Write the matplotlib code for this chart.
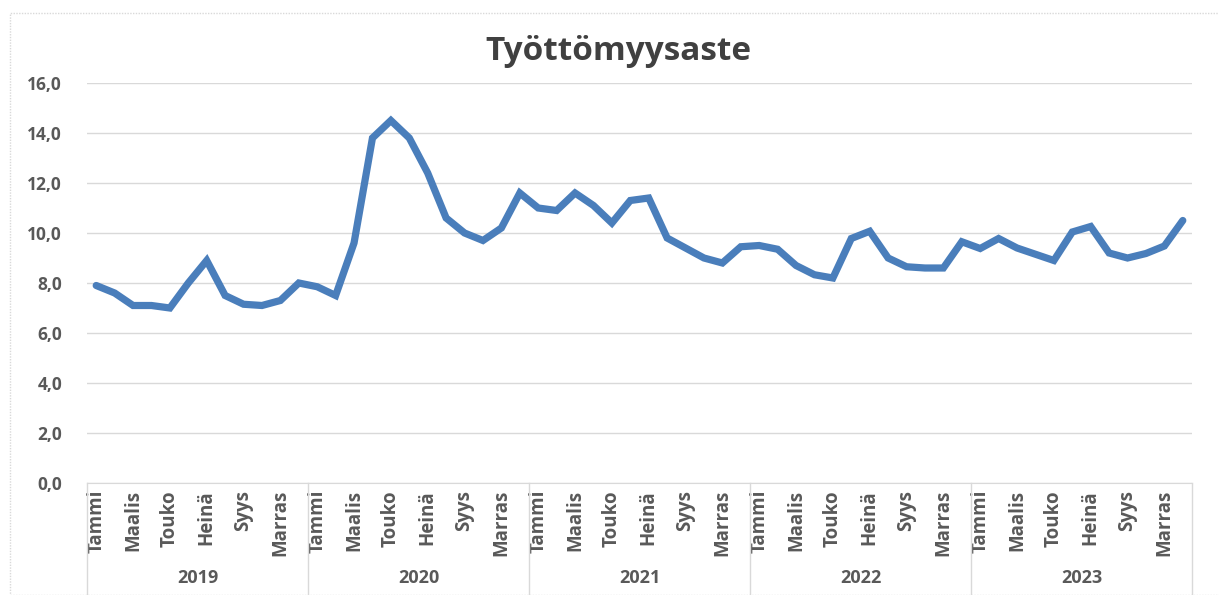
import matplotlib
matplotlib.use('Agg')
import matplotlib.pyplot as plt
import matplotlib.transforms as mtransforms
from matplotlib.patches import Rectangle

plt.rcParams['font.family'] = ['Open Sans', 'DejaVu Sans']

years = ['2019', '2020', '2021', '2022', '2023']
month_labels = ['Tammi', 'Maalis', 'Touko', 'Heinä', 'Syys', 'Marras']

rate_2019 = [7.9, 7.6, 7.1, 7.1, 7.0, 8.0, 8.9, 7.5, 7.15, 7.1, 7.3, 8.0]
rate_2020 = [7.85, 7.5, 9.6, 13.8, 14.5, 13.8, 12.4, 10.6, 10.0, 9.7, 10.2, 11.6]
rate_2021 = [11.0, 10.9, 11.6, 11.1, 10.4, 11.3, 11.4, 9.8, 9.4, 9.0, 8.8, 9.45]
rate_2022 = [9.5, 9.35, 8.7, 8.33, 8.2, 9.78, 10.07, 9.0, 8.65, 8.6, 8.6, 9.65]
rate_2023 = [9.38, 9.78, 9.4, 9.15, 8.9, 10.04, 10.26, 9.2, 9.0, 9.18, 9.48, 10.5]

rates = rate_2019 + rate_2020 + rate_2021 + rate_2022 + rate_2023
x = list(range(len(rates)))

text_col = '#595959'
grid_col = '#d9d9d9'

fig = plt.figure(figsize=(12.19, 5.95), dpi=100)
ax = fig.add_axes([87 / 1219, 112 / 595, 1105 / 1219, 400 / 595])

# chart area border
fig.patches.append(Rectangle((10 / 1219, 0), 1.1, (595 - 13) / 595, transform=fig.transFigure,
                             fill=False, edgecolor='#d9d9d9', lw=1, ls=(0, (1, 1))))

ax.plot(x, rates, color='#4a7ebb', lw=5.2, solid_joinstyle='miter', solid_capstyle='round', zorder=3)

ax.set_xlim(-0.5, len(rates) - 0.5)
ax.set_ylim(0, 16)
ax.set_yticks(range(0, 17, 2))
ax.set_yticklabels([f'{v},0' for v in range(0, 17, 2)], fontsize=12.5, fontweight='bold', color=text_col)
ax.grid(axis='y', color=grid_col, lw=1)
ax.set_axisbelow(True)

ax.set_xticks(x[::2])
ax.set_xticklabels(month_labels * len(years), rotation=90, fontsize=13.5, fontweight='bold',
                   color=text_col, va='top')
ax.tick_params(axis='x', length=0, pad=5)
ax.tick_params(axis='y', length=0, pad=18)

for s in ['left', 'top', 'right']:
    ax.spines[s].set_visible(False)
ax.spines['bottom'].set_color(grid_col)

trans = mtransforms.blended_transform_factory(ax.transData, ax.transAxes)
for i in range(len(years) + 1):
    xs = i * 12 - 0.5
    ax.plot([xs, xs], [0, -0.28], transform=trans, color=grid_col, lw=1, clip_on=False)
for i, yr in enumerate(years):
    ax.text(i * 12 + 5.5, -0.237, yr, transform=trans, ha='center', va='center',
            fontsize=13, fontweight='bold', color=text_col)

fig.text(618 / 1219, 1 - 52 / 595, 'Työttömyysaste', ha='center', va='center',
         fontsize=24, fontweight='bold', color='#404040')

fig.savefig('out.png', dpi=100)
